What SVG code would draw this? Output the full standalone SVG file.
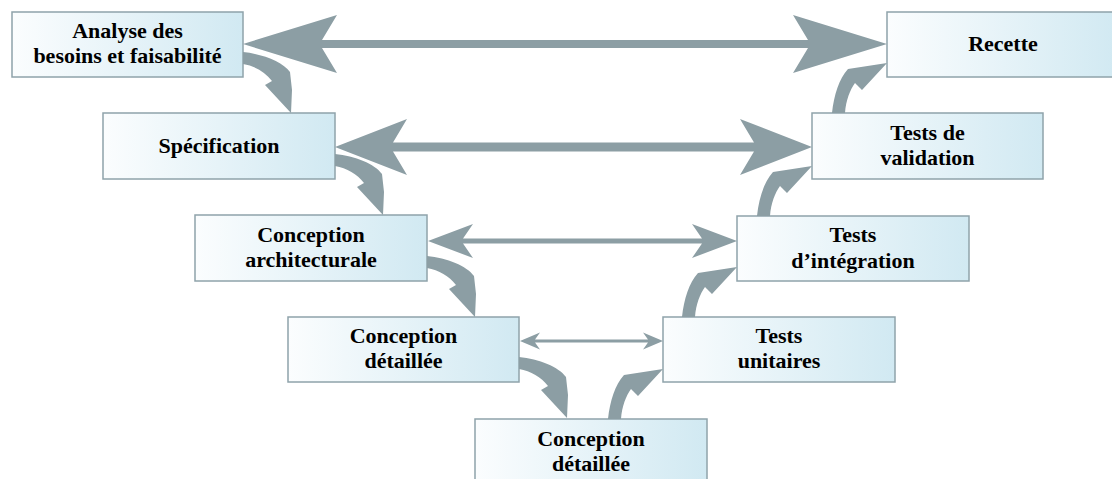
<svg xmlns="http://www.w3.org/2000/svg" xmlns:xlink="http://www.w3.org/1999/xlink" width="1112" height="479" viewBox="0 0 1112 479">
<defs>
<linearGradient id="boxfill" x1="0" y1="0" x2="1" y2="0">
<stop offset="0" stop-color="#fbfdfe"/>
<stop offset="1" stop-color="#d1e9f2"/>
</linearGradient>
<path id="curveDown" d="M0,-25 C20,-23 40,-15 47,-5 L49,13 L48,36 L22,8 L29,4 C22,-5 12,-11 0,-13 Z"/>
<path id="curveUp" d="M-55,0 C-53,-18 -48,-34 -39,-44 L0,-50 L-25,-23 L-32,-30 C-37,-23 -41,-13 -42,0 Z"/>
</defs>
<style>
.box{fill:url(#boxfill);stroke:#8fa3aa;stroke-width:1.5}
.lbl{font-family:"Liberation Serif","Times New Roman",serif;font-weight:bold;font-size:22px;fill:#000;text-anchor:middle}
.arr{fill:#8c9ea4;stroke:none}
</style>
<rect width="1112" height="479" fill="#ffffff"/>
<g id="n-analyse"><rect class="box" x="12" y="12" width="231" height="65"/><text class="lbl" x="127.5" y="38">Analyse des</text><text class="lbl" x="127.5" y="63">besoins et faisabilité</text></g>
<g id="n-recette"><rect class="box" x="887" y="12" width="232" height="65"/><text class="lbl" x="1003" y="51">Recette</text></g>
<g id="n-specification"><rect class="box" x="103" y="113" width="232" height="66"/><text class="lbl" x="219" y="153">Spécification</text></g>
<g id="n-validation"><rect class="box" x="812" y="113" width="231" height="66"/><text class="lbl" x="927.5" y="140">Tests de</text><text class="lbl" x="927.5" y="165">validation</text></g>
<g id="n-architecturale"><rect class="box" x="195" y="215" width="232" height="66"/><text class="lbl" x="311" y="242">Conception</text><text class="lbl" x="311" y="267">architecturale</text></g>
<g id="n-integration"><rect class="box" x="737" y="216" width="232" height="65"/><text class="lbl" x="853" y="242">Tests</text><text class="lbl" x="853" y="268">d’intégration</text></g>
<g id="n-detaillee"><rect class="box" x="288" y="317" width="231" height="65"/><text class="lbl" x="403.5" y="343">Conception</text><text class="lbl" x="403.5" y="368">détaillée</text></g>
<g id="n-unitaires"><rect class="box" x="663" y="317" width="232" height="65"/><text class="lbl" x="779" y="343">Tests</text><text class="lbl" x="779" y="368">unitaires</text></g>
<g id="n-detaillee2"><rect class="box" x="475" y="419" width="232" height="66"/><text class="lbl" x="591" y="446">Conception</text><text class="lbl" x="591" y="471">détaillée</text></g>
<g id="connectors">
<polygon class="arr" points="243,44 337,15 322,40 808,40 793,15 887,44 793,73 808,48 322,48 337,73"/>
<polygon class="arr" points="335,147 407,119 393,142.5 754,142.5 740,119 812,147 740,175 754,151.5 393,151.5 407,175"/>
<polygon class="arr" points="428,241 473,224 463,238.5 702,238.5 692,224 737,241 692,258 702,243.5 463,243.5 473,258"/>
<polygon class="arr" points="520,341 540,332.5 535,339.5 648,339.5 643,332.5 663,341 643,349.5 648,342.5 535,342.5 540,349.5"/>
<use class="arr" xlink:href="#curveDown" href="#curveDown" transform="translate(243,77)"/>
<use class="arr" xlink:href="#curveDown" href="#curveDown" transform="translate(335,179)"/>
<use class="arr" xlink:href="#curveDown" href="#curveDown" transform="translate(427,281)"/>
<use class="arr" xlink:href="#curveDown" href="#curveDown" transform="translate(519,382)"/>
<use class="arr" xlink:href="#curveUp" href="#curveUp" transform="translate(887,113)"/>
<use class="arr" xlink:href="#curveUp" href="#curveUp" transform="translate(812,216)"/>
<use class="arr" xlink:href="#curveUp" href="#curveUp" transform="translate(737,317)"/>
<use class="arr" xlink:href="#curveUp" href="#curveUp" transform="translate(663,419)"/>
</g>
</svg>
